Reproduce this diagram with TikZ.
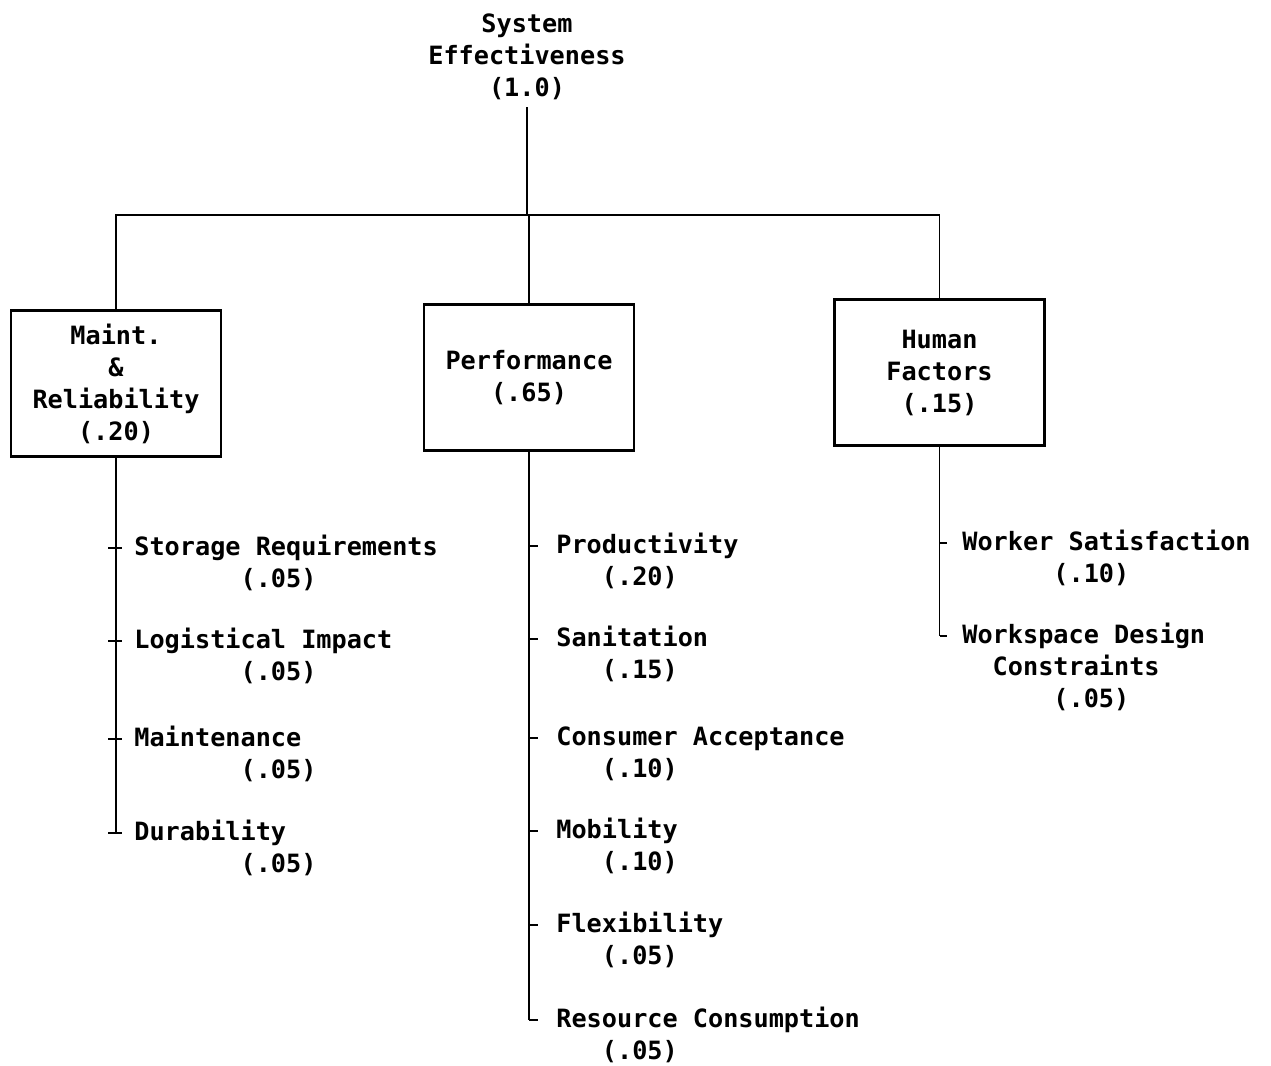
\documentclass[tikz,border=0pt]{standalone}
\usepackage{fontspec}
\setmainfont{DejaVu Sans Mono}
\usetikzlibrary{positioning}
\tikzset{factor/.style={draw, line width=1.4pt, minimum width=105pt, minimum height=73pt, align=center, inner sep=2pt, font=\fontsize{12.6}{16}\selectfont\bfseries}}
\tikzset{leaf/.style={anchor=base west, align=left, inner sep=0pt, yshift=-#1*16pt, font=\fontsize{12.6}{16}\selectfont\bfseries}, leaf/.default=1}
\tikzset{link/.style={draw, line width=0.9pt}}
\newcommand{\ind}[1]{\hspace*{#1\fontcharwd\font`0}}

\begin{document}
\begin{tikzpicture}[x=0.5pt, y=-0.5pt]
    \useasboundingbox (0,0) rectangle (1271,1066);

    \node[align=center, font=\fontsize{12.6}{16}\selectfont\bfseries] (se) at (527,57) {System\\Effectiveness\\(1.0)};

    \node[factor] (mr) at (116,383.5) {Maint.\\\&\\Reliability\\(.20)};
    \node[factor] (pf) at (529,377.5) {Performance\\(.65)};
    \node[factor] (hf) at (939.5,372.5) {Human\\Factors\\(.15)};

    % maint. & reliability
    \node[leaf] (sto) at (134,555) {Storage Requirements\\\ind{7}(.05)};
    \node[leaf] (log) at (134,648) {Logistical Impact\\\ind{7}(.05)};
    \node[leaf] (mnt) at (134,746) {Maintenance\\\ind{7}(.05)};
    \node[leaf] (dur) at (134,840) {Durability\\\ind{7}(.05)};

    % performance
    \node[leaf] (prd) at (556,553) {Productivity\\\ind{3}(.20)};
    \node[leaf] (snt) at (556,646) {Sanitation\\\ind{3}(.15)};
    \node[leaf] (con) at (556,745) {Consumer Acceptance\\\ind{3}(.10)};
    \node[leaf] (mob) at (556,838) {Mobility\\\ind{3}(.10)};
    \node[leaf] (flx) at (556,932) {Flexibility\\\ind{3}(.05)};
    \node[leaf] (rsc) at (556,1027) {Resource Consumption\\\ind{3}(.05)};

    % human factors
    \node[leaf] (wst) at (962,550) {Worker Satisfaction\\\ind{6}(.10)};
    \node[leaf=2] (wsd) at (962,643) {Workspace Design\\\ind{2}Constraints\\\ind{6}(.05)};

    \foreach \c in {sto,log,mnt,dur,prd,snt,con,mob,flx,rsc,wst}
        \coordinate (\c-t) at ([yshift=19.5pt]\c.base west);
    \coordinate (wsd-t) at ([yshift=35.5pt]wsd.base west);

    \coordinate (bus) at (527,215);
    \begin{scope}[link]
        \draw (se) -- (bus);
        \draw (bus) -| (mr.north);
        \draw (bus) -| (hf.north);
        \draw (bus -| pf.north) -- (pf.north);

        \draw (mr.south) -- (mr.south |- dur-t);
        \draw (pf.south) -- (pf.south |- rsc-t);
        \draw (hf.south) -- (hf.south |- wsd-t);

        \foreach \c in {sto,log,mnt,dur}
            \draw ([xshift=-13pt]\c-t) -- ([xshift=-6pt]\c-t);
        \foreach \c in {prd,snt,con,mob,flx,rsc}
            \draw ([xshift=-13.5pt]\c-t) -- ([xshift=-9pt]\c-t);
        \foreach \c in {wst,wsd}
            \draw ([xshift=-11.25pt]\c-t) -- ([xshift=-7.5pt]\c-t);
    \end{scope}
\end{tikzpicture}
\end{document}
